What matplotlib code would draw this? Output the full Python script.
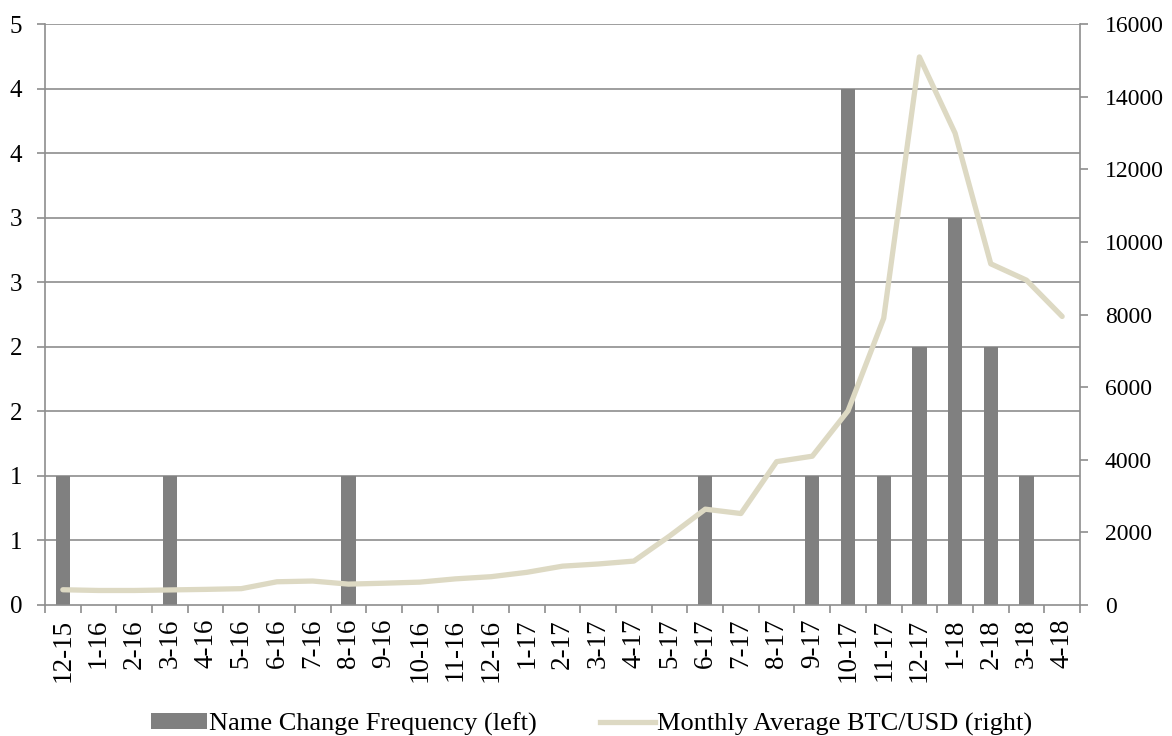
import numpy as np
import matplotlib
matplotlib.use("Agg")
from matplotlib import pyplot as plt
from matplotlib.patches import Patch
from matplotlib.lines import Line2D

# months (m-yy)
months = ["12-15", "1-16", "2-16", "3-16", "4-16", "5-16", "6-16", "7-16", "8-16",
          "9-16", "10-16", "11-16", "12-16", "1-17", "2-17", "3-17", "4-17", "5-17",
          "6-17", "7-17", "8-17", "9-17", "10-17", "11-17", "12-17", "1-18", "2-18",
          "3-18", "4-18"]
name_changes = [1, 0, 0, 1, 0, 0, 0, 0, 1, 0, 0, 0, 0, 0, 0, 0, 0, 0,
                1, 0, 0, 1, 4, 1, 2, 3, 2, 1, 0]
btc_usd = [420, 400, 400, 415, 430, 450, 640, 660, 575, 600, 630, 720, 780, 900,
           1070, 1130, 1210, 1900, 2640, 2520, 3950, 4100, 5350, 7900, 15100,
           13000, 9400, 8950, 7950]
left_ticks = [0, 0.5, 1, 1.5, 2, 2.5, 3, 3.5, 4, 4.5]
left_labels = ["0", "1", "1", "2", "2", "3", "3", "4", "4", "5"]
right_ticks = [0, 2000, 4000, 6000, 8000, 10000, 12000, 14000, 16000]

barColor = "#808080"
lineColor = "#ddd9c3"
gridColor = "#8e8e8e"

plt.rcParams["font.family"] = ["Liberation Serif", "DejaVu Serif"]
plt.rcParams["font.size"] = 18

fig = plt.figure(figsize=(11.72, 7.36), dpi=100)
ax = fig.add_axes([0.0384, 0.178, 0.9215 - 0.0384, 0.967 - 0.178])
x = np.arange(len(months))

ax.set_axisbelow(True)
for t in left_ticks[1:]:
    ax.axhline(t, color=gridColor, lw=1.2, zorder=0)
ax.bar(x, name_changes, width=0.4, color=barColor, zorder=2)
ax.set_xlim(-0.5, len(months) - 0.5)
ax.set_ylim(0, 4.5)
ax.set_yticks(left_ticks)
ax.set_yticklabels(left_labels)
ax.set_xticks(x)
ax.set_xticklabels(months, rotation=90, fontsize=19.5)
ax.set_xticks(np.arange(len(months) + 1) - 0.5, minor=True)
ax.tick_params(axis="x", which="major", length=0, pad=10)
ax.tick_params(axis="x", which="minor", length=6, color=gridColor, width=1.2)
ax.tick_params(axis="y", length=6, color=gridColor, width=1.2, pad=10.5)
for s in ["top", "right"]:
    ax.spines[s].set_visible(False)
for s in ["left", "bottom"]:
    ax.spines[s].set_color(gridColor)
    ax.spines[s].set_linewidth(1.2)

ax2 = ax.twinx()
ax2.plot(x, btc_usd, color=lineColor, lw=3.8, solid_capstyle="round", zorder=3)
ax2.set_ylim(0, 16000)
ax2.set_yticks(right_ticks)
ax2.tick_params(axis="y", length=6, color=gridColor, width=1.2, pad=12, labelsize=17)
for s in ["top", "left", "bottom"]:
    ax2.spines[s].set_visible(False)
ax2.spines["right"].set_color(gridColor)
ax2.spines["right"].set_linewidth(1.2)

handles = [Patch(facecolor=barColor, edgecolor="none"),
           Line2D([], [], color=lineColor, lw=3.8)]
fig.legend(handles, ["Name Change Frequency (left)", "Monthly Average BTC/USD (right)"],
           loc="lower center", bbox_to_anchor=(0.505, -0.032), ncol=2, frameon=False,
           fontsize=19, handlelength=2.1, handleheight=0.6, handletextpad=0.08,
           columnspacing=2.4)

fig.savefig("out.png", dpi=100)
